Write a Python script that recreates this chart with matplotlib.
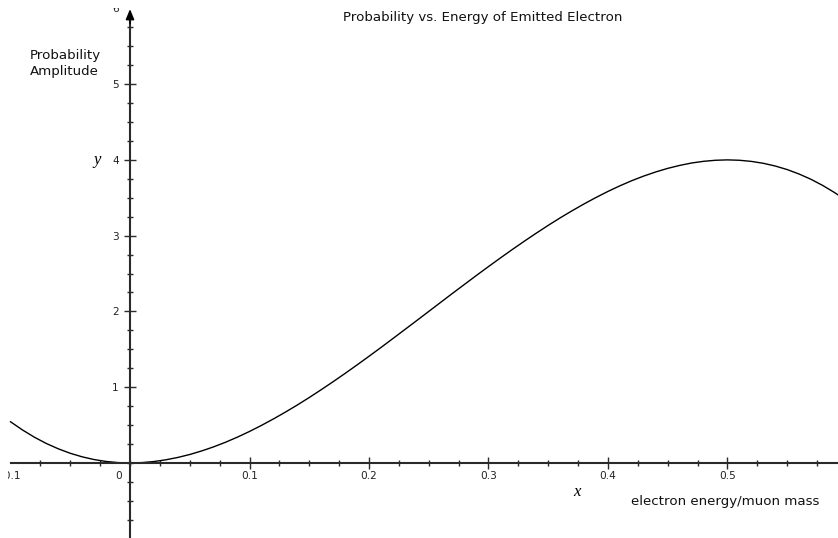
import matplotlib
matplotlib.use("Agg")
import matplotlib.pyplot as plt
from matplotlib.transforms import Bbox
from matplotlib.ticker import MultipleLocator, FixedLocator, FixedFormatter

# Curve values
x_vals = [-0.10, -0.09, -0.08, -0.07, -0.06, -0.05, -0.04, -0.03, -0.02, -0.01,
          0.00, 0.01, 0.02, 0.03, 0.04, 0.05, 0.06, 0.07, 0.08, 0.09,
          0.10, 0.11, 0.12, 0.13, 0.14, 0.15, 0.16, 0.17, 0.18, 0.19,
          0.20, 0.21, 0.22, 0.23, 0.24, 0.25, 0.26, 0.27, 0.28, 0.29,
          0.30, 0.31, 0.32, 0.33, 0.34, 0.35, 0.36, 0.37, 0.38, 0.39,
          0.40, 0.41, 0.42, 0.43, 0.44, 0.45, 0.46, 0.47, 0.48, 0.49,
          0.50, 0.51, 0.52, 0.53, 0.54, 0.55, 0.56, 0.57, 0.58, 0.59, 0.60]
y_vals = [0.544, 0.436, 0.340, 0.257, 0.187, 0.128, 0.081, 0.045, 0.020, 0.005,
          0.000, 0.005, 0.019, 0.042, 0.073, 0.112, 0.159, 0.213, 0.274, 0.342,
          0.416, 0.496, 0.581, 0.671, 0.765, 0.864, 0.967, 1.073, 1.182, 1.294,
          1.408, 1.524, 1.642, 1.761, 1.880, 2.000, 2.120, 2.240, 2.358, 2.476,
          2.592, 2.706, 2.818, 2.927, 3.033, 3.136, 3.235, 3.329, 3.419, 3.504,
          3.584, 3.658, 3.726, 3.787, 3.841, 3.888, 3.927, 3.959, 3.981, 3.995,
          4.000, 3.995, 3.980, 3.955, 3.919, 3.872, 3.813, 3.743, 3.660, 3.565, 3.456]

x_ticks = [-0.1, 0.1, 0.2, 0.3, 0.4, 0.5]
x_tick_labels = ["-0.1", "0.1", "0.2", "0.3", "0.4", "0.5"]
y_ticks = [-1, 1, 2, 3, 4, 5, 6]
y_tick_labels = ["-1", "1", "2", "3", "4", "5", "6"]

title = "Probability vs. Energy of Emitted Electron"
x_label = "electron energy/muon mass"
y_label = "Probability\nAmplitude"

W, H = 838, 538
fig = plt.figure(figsize=(W / 100, H / 100), dpi=100)
ax = fig.add_axes([0, 0, 1, 1])
ax.set_xlim(-0.1088, 0.5925)
ax.set_ylim(-0.99, 6.11)
ax.patch.set_alpha(0)

axis_col = "#2a2a2a"
for s in ["top", "right"]:
    ax.spines[s].set_visible(False)
ax.spines["left"].set_position(("data", 0))
ax.spines["bottom"].set_position(("data", 0))
ax.spines["left"].set_bounds(-1.0, 5.95)
ax.spines["bottom"].set_bounds(-0.1, 0.5925)
for s in ["left", "bottom"]:
    ax.spines[s].set_color(axis_col)
    ax.spines[s].set_linewidth(1.5)

ax.xaxis.set_major_locator(FixedLocator(x_ticks))
ax.xaxis.set_major_formatter(FixedFormatter(x_tick_labels))
ax.xaxis.set_minor_locator(MultipleLocator(0.025))
ax.yaxis.set_major_locator(FixedLocator(y_ticks))
ax.yaxis.set_major_formatter(FixedFormatter(y_tick_labels))
ax.yaxis.set_minor_locator(MultipleLocator(0.25))

ax.tick_params(which="major", direction="inout", length=8, width=1.0,
               color=axis_col, labelsize=7.6, labelcolor="#222222")
ax.tick_params(which="minor", direction="inout", length=4, width=1.0,
               color=axis_col)
ax.tick_params(axis="x", which="major", pad=2)
ax.tick_params(axis="y", which="major", pad=4)

# y-axis arrow
ax.annotate("", xy=(0, 5.99), xytext=(0, 5.8),
            arrowprops=dict(arrowstyle="-|>,head_length=0.6,head_width=0.25",
                            color="black", lw=1.2, shrinkA=0, shrinkB=0))

# curve
ax.plot(x_vals, y_vals, color="black", lw=1.0, clip_on=False)

# zero label, offset to the left of the y axis
ax.text(-0.0098, -0.11, "0", fontsize=7.6, color="#222222",
        ha="center", va="top")

fig.canvas.draw()
# hide the tick marks at the clipped ends of the axes
for t in ax.xaxis.get_major_ticks():
    if abs(t.get_loc() - (-0.1)) < 1e-9:
        t.tick1line.set_visible(False)
for t in ax.yaxis.get_major_ticks():
    if abs(t.get_loc() - 6) < 1e-9:
        t.tick1line.set_visible(False)
for t in ax.xaxis.get_minor_ticks():
    if t.get_loc() < -0.099:
        t.tick1line.set_visible(False)
for t in ax.yaxis.get_minor_ticks():
    if t.get_loc() > 5.9:
        t.tick1line.set_visible(False)

clip = Bbox.from_extents(8, 3, W, H - 8)
for lab in ax.get_xticklabels() + ax.get_yticklabels():
    lab.set_clip_box(clip)
    lab.set_clip_on(True)

fig.text(483 / W, 1 - 18 / H, title, ha="center", va="center",
         fontsize=9.6, color="#111111")
fig.text(30 / W, 1 - 63 / H, y_label, ha="left", va="center",
         fontsize=9.6, color="#111111", linespacing=1.3)
fig.text(97 / W, 1 - 160 / H, "y", ha="center", va="center",
         fontsize=12, style="italic", family="Liberation Serif")
fig.text(577 / W, 1 - 492 / H, "x", ha="center", va="center",
         fontsize=12, style="italic", family="Liberation Serif")
fig.text(631 / W, 1 - 502 / H, x_label, ha="left", va="center",
         fontsize=9.6, color="#111111")

fig.savefig("out.png", dpi=100)
